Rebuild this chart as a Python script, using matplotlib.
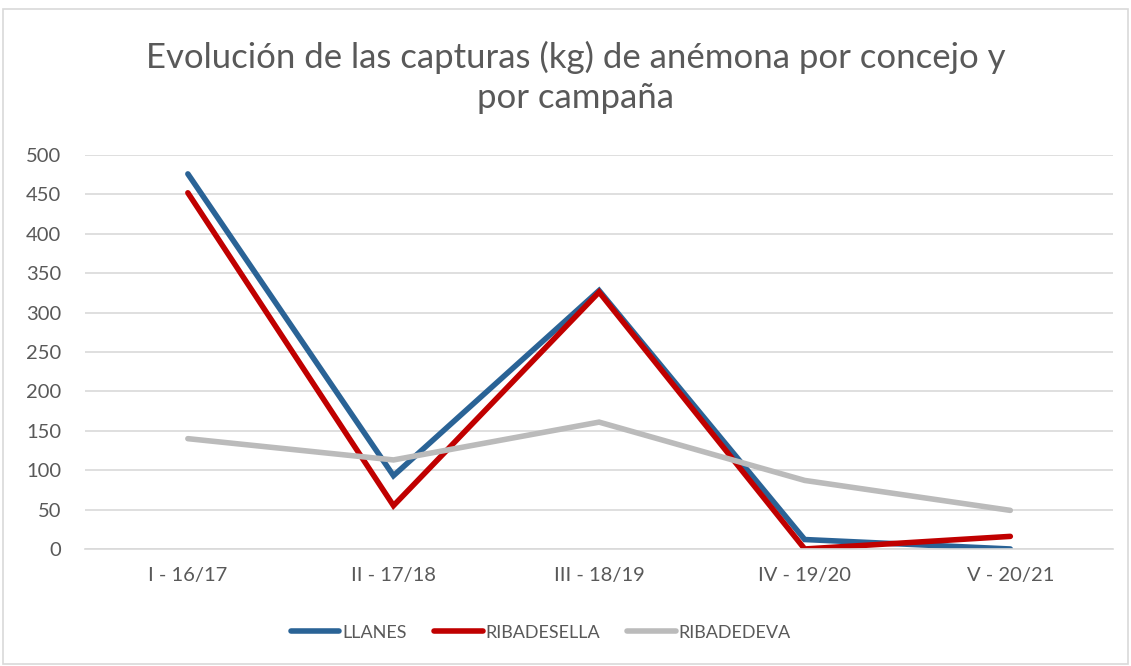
import matplotlib.pyplot as plt
from matplotlib.patches import Rectangle

campaigns = ["I - 16/17", "II - 17/18", "III - 18/19", "IV - 19/20", "V - 20/21"]
llanes = [476, 93, 328, 12, 0]
ribadesella = [452, 55, 326, 0, 16]
ribadedeva = [140, 113, 161, 87, 49]

series = [
    ("LLANES", llanes, "#2A6396"),
    ("RIBADESELLA", ribadesella, "#C00000"),
    ("RIBADEDEVA", ribadedeva, "#BBBBBB"),
]

plt.rcParams["font.family"] = ["Lato", "DejaVu Sans"]
text_color = "#595959"

fig = plt.figure(figsize=(11.31, 6.66), dpi=100)
ax = fig.add_axes([0.0752, 0.1757, 0.909, 0.5916])

x = list(range(len(campaigns)))
for name, values, color in series:
    ax.plot(x, values, color=color, linewidth=4, label=name,
            solid_capstyle="round", solid_joinstyle="miter")

ax.set_xlim(-0.5, len(campaigns) - 0.5)
ax.set_ylim(0, 500)
ax.set_yticks(range(0, 501, 50))
ax.set_xticks(x)
ax.set_xticklabels(campaigns)
ax.grid(axis="y", color="#D9D9D9", linewidth=1.2)
ax.set_axisbelow(True)
for side in ["top", "right", "left"]:
    ax.spines[side].set_visible(False)
ax.spines["bottom"].set_color("#D9D9D9")
ax.spines["bottom"].set_linewidth(1.2)
ax.tick_params(length=0, labelsize=14.5, colors=text_color, pad=13)
ax.tick_params(axis="y", pad=17)

fig.text(0.509, 0.884, "Evolución de las capturas (kg) de anémona por concejo y\npor campaña",
         ha="center", va="center", fontsize=25, color=text_color, linespacing=1.3)

fig.legend(loc="center", bbox_to_anchor=(0.478, 0.05), ncol=3, frameon=False,
           fontsize=13, labelcolor=text_color, handlelength=2.7,
           handletextpad=0.15, columnspacing=1.5)

fig.patches.append(Rectangle((3 / 1131, 2 / 666), 1125 / 1131, 655 / 666,
                             transform=fig.transFigure, fill=False,
                             edgecolor="#D9D9D9", linewidth=1.2))

fig.savefig("out.png", dpi=100)
